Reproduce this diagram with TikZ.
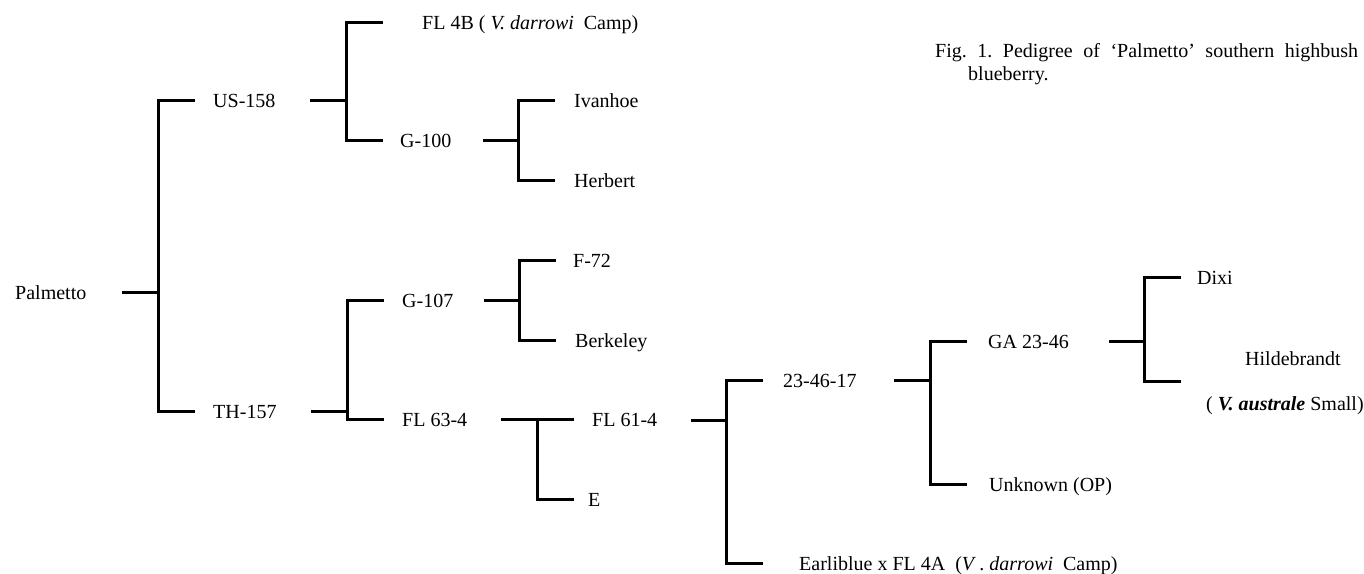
\documentclass[tikz,border=0pt]{standalone}
\usepackage{fontspec}
\setmainfont{Liberation Serif}
\begin{document}
\begin{tikzpicture}[x=1pt,y=-1pt,
  lbl/.style={anchor=base west,inner sep=0pt,font=\fontsize{20}{24}\selectfont},
  bar/.style={line width=3pt,line cap=butt,line join=miter}]
\useasboundingbox (0,0) rectangle (1364,573);
% labels
\node[lbl] (palmetto) at (15,299) {Palmetto};
\node[lbl] (us158) at (213,107) {US-158};
\node[lbl] (th157) at (213,418) {TH-157};
\node[lbl] (fl4b) at (422,29) {FL 4B ( \textit{V. darrowi}\ \ Camp)};
\node[lbl] (g100) at (400,147) {G-100};
\node[lbl] (ivanhoe) at (574,107) {Ivanhoe};
\node[lbl] (herbert) at (574,187) {Herbert};
\node[lbl] (g107) at (402,307) {G-107};
\node[lbl] (fl634) at (402,426) {FL 63-4};
\node[lbl] (f72) at (573,267) {F-72};
\node[lbl] (berkeley) at (575,347) {Berkeley};
\node[lbl] (fl614) at (592,426) {FL 61-4};
\node[lbl] (e) at (588,506) {E};
\node[lbl] (n234617) at (783,387) {23-46-17};
\node[lbl] (earliblue) at (799,570) {Earliblue x FL 4A\ \ (\textit{V}\,. \textit{darrowi}\ \ Camp)};
\node[lbl] (ga2346) at (988,348) {GA 23-46};
\node[lbl] (unknown) at (989,491) {Unknown (OP)};
\node[lbl] (dixi) at (1197,284) {Dixi};
\node[lbl] (hildebrandt) at (1245,365) {Hildebrandt};
\node[lbl] (australe) at (1206,410) {( \textit{\textbf{V. australe}} Small)};
\node[lbl] (cap1) at (935,57) {Fig.\hspace{10.5pt}1.\hspace{10.5pt}Pedigree\hspace{10.5pt}of\hspace{10.5pt}‘Palmetto’\hspace{10.5pt}southern\hspace{10.5pt}highbush};
\node[lbl] (cap2) at (968,80) {blueberry.};
% bracket coordinates
\coordinate (pa0) at (122,292); \coordinate (paj) at (158,292);
\coordinate (pat) at (195,100); \coordinate (pab) at (195,411);
\coordinate (us0) at (310,100); \coordinate (usj) at (346,100);
\coordinate (ust) at (383,22);  \coordinate (usb) at (383,140);
\coordinate (ga0) at (483,140); \coordinate (gaj) at (518,140);
\coordinate (gat) at (555,100); \coordinate (gab) at (555,180);
\coordinate (th0) at (311,411); \coordinate (thj) at (347,411);
\coordinate (tht) at (384,300); \coordinate (thb) at (384,419);
\coordinate (gs0) at (484,300); \coordinate (gsj) at (519,300);
\coordinate (gst) at (556,260); \coordinate (gsb) at (556,340);
\coordinate (fa0) at (501,419); \coordinate (faj) at (537,419);
\coordinate (fat) at (574,419); \coordinate (fab) at (574,499);
\coordinate (fb0) at (691,420); \coordinate (fbj) at (726,420);
\coordinate (fbt) at (763,380); \coordinate (fbb) at (763,563);
\coordinate (na0) at (894,380); \coordinate (naj) at (930,380);
\coordinate (nat) at (967,341); \coordinate (nab) at (967,484);
\coordinate (gg0) at (1109,341); \coordinate (ggj) at (1144,341);
\coordinate (ggt) at (1181,277); \coordinate (ggb) at (1181,381);
% connectors
\foreach \p in {pa,us,ga,th,gs,fa,fb,na,gg}{
  \draw[bar] (\p0) -- (\p j);
  \draw[bar] (\p t) -| (\p j) |- (\p b);
}
\end{tikzpicture}
\end{document}
